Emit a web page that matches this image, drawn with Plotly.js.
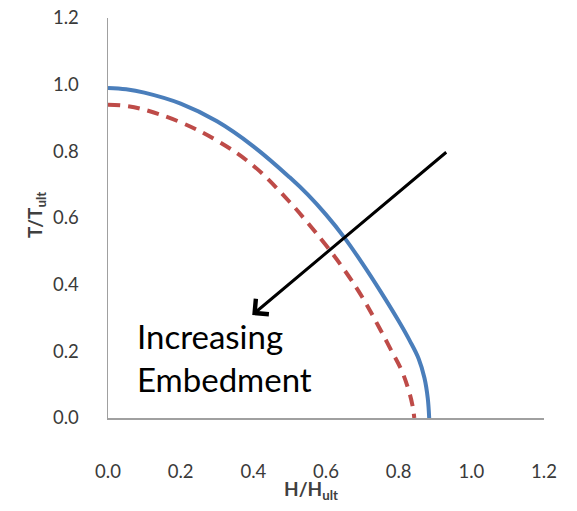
<!DOCTYPE html>
<html>
<head>
<meta charset="utf-8">
<script src="https://cdn.plot.ly/plotly-3.0.1.min.js"></script>
<style>html,body{margin:0;padding:0;background:#fff;}#chart{width:577px;height:511px;}</style>
</head>
<body>
<div id="chart"></div>
<script>
// Series: shallower embedment (solid blue)
const hBlue = [0, 0.05, 0.1, 0.2, 0.3, 0.4, 0.5, 0.55, 0.6, 0.65, 0.7, 0.75, 0.8, 0.83, 0.855, 0.871, 0.88, 0.884];
const tBlue = [0.99, 0.986, 0.976, 0.943, 0.89, 0.815, 0.722, 0.67, 0.61, 0.542, 0.464, 0.38, 0.291, 0.233, 0.178, 0.12, 0.06, 0];
// Series: increased embedment (dashed red)
const hRed = [0, 0.05, 0.1, 0.2, 0.3, 0.4, 0.5, 0.55, 0.6, 0.65, 0.7, 0.75, 0.78, 0.808, 0.827, 0.838, 0.843];
const tRed = [0.94, 0.936, 0.925, 0.887, 0.832, 0.757, 0.648, 0.585, 0.518, 0.445, 0.362, 0.264, 0.202, 0.143, 0.085, 0.038, 0];
// Tick labels
const tickVals = [0, 0.2, 0.4, 0.6, 0.8, 1.0, 1.2];
const tickText = ["0.0", "0.2", "0.4", "0.6", "0.8", "1.0", "1.2"];
// Arrow (tail -> head) in data units
const arrowTail = [0.935, 0.801];
const arrowHead = [0.397, 0.309];

const tickFont = {family: "Lato, 'Open Sans', sans-serif", size: 18.5, color: "#3a3a3a"};

const traces = [
  {x: hBlue, y: tBlue, mode: "lines", line: {color: "#4A7EBB", width: 4, shape: "spline", smoothing: 1.1}, hoverinfo: "skip"},
  {x: hRed, y: tRed, mode: "lines", line: {color: "#BE4B48", width: 4, dash: "12px,8px", shape: "spline", smoothing: 1.1}, hoverinfo: "skip"}
];

const plotW = 577 - 108 - 33, plotH = 511 - 18 - 93;
const layout = {
  width: 577, height: 511,
  margin: {l: 108, r: 33, t: 18, b: 93},
  paper_bgcolor: "#fff", plot_bgcolor: "#fff",
  showlegend: false,
  xaxis: {range: [0, 1.2], tickvals: tickVals, ticktext: tickText, showgrid: false, zeroline: false,
          showline: true, linecolor: "#a0a0a0", linewidth: 1.5, ticks: "", ticklabelstandoff: 36, tickfont: tickFont, fixedrange: true},
  yaxis: {range: [0, 1.2], tickvals: tickVals, ticktext: tickText, showgrid: false, zeroline: false,
          showline: true, linecolor: "#a0a0a0", linewidth: 1.5, ticks: "", ticklabelstandoff: 24, tickfont: tickFont, fixedrange: true},
  annotations: [
    {x: arrowHead[0], y: arrowHead[1], ax: arrowTail[0], ay: arrowTail[1], axref: "x", ayref: "y", xref: "x", yref: "y",
     showarrow: true, arrowhead: 4, arrowsize: 1.3, arrowwidth: 3, arrowcolor: "#000", standoff: 0, text: ""},
    {x: 0.0745, y: 0.183, xref: "x", yref: "y", xanchor: "left", yanchor: "middle", align: "left", showarrow: false,
     text: "Increasing<br>Embedment", font: {family: "Lato, 'Open Sans', sans-serif", size: 33, color: "#000"}},
    {x: (311 - 108) / plotW, y: (418 - 490) / plotH, xref: "paper", yref: "paper", xanchor: "center", yanchor: "middle", showarrow: false,
     text: "<b>H/H<sub>ult</sub></b>", font: {family: "Lato, sans-serif", size: 19, color: "#404040"}},
    {x: (36 - 108) / plotW, y: (418 - 215) / plotH, xref: "paper", yref: "paper", xanchor: "center", yanchor: "middle", showarrow: false,
     textangle: -90, text: "<b>T/T<sub>ult</sub></b>", font: {family: "Lato, sans-serif", size: 19, color: "#404040"}}
  ]
};

Plotly.newPlot("chart", traces, layout, {staticPlot: true, displayModeBar: false});
</script>
</body>
</html>
